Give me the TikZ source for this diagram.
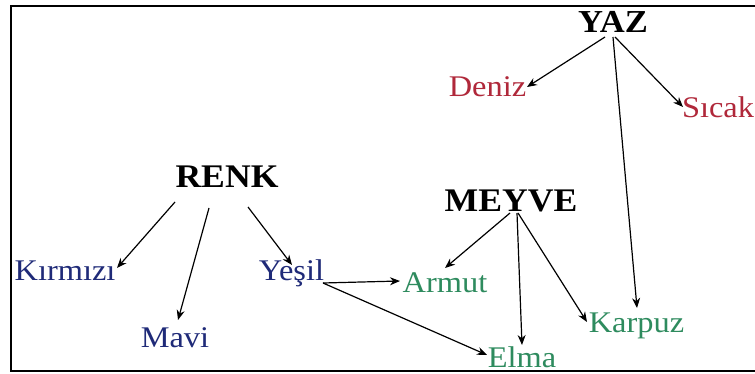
\documentclass[tikz,border=0pt]{standalone}
\usepackage{fontspec}
\setmainfont[FakeStretch=1.08]{Liberation Serif}
\usetikzlibrary{calc,arrows.meta}

\definecolor{summerred}{HTML}{B0283A}
\definecolor{colourblue}{HTML}{1F2A78}
\definecolor{fruitgreen}{HTML}{2E8B5E}

\tikzset{
  lbl/.style={anchor=base, inner sep=0pt},
  topic/.style={lbl, font=\fontsize{33}{33}\selectfont\bfseries},
  word/.style={lbl, font=\fontsize{30}{30}\selectfont},
  redword/.style={word, text=summerred},
  blueword/.style={word, text=colourblue},
  greenword/.style={word, text=fruitgreen},
  link/.style={line width=1.2pt, -{Stealth[length=10pt,width=8pt]}},
  frame/.style={line width=2pt}
}

\begin{document}
\begin{tikzpicture}[x=1pt, y=-1pt]
  \useasboundingbox (0,0) rectangle (755,374);
  \fill[white] (0,0) rectangle (755,374);

  % open frame: top, left and bottom edges
  \draw[frame] (755,6) -- (11,6) -- (11,371) -- (755,371);

  % main topics
  \node[topic, font=\fontsize{32}{32}\selectfont\bfseries] (yaz) at (613,33) {YAZ};
  \node[topic] (renk)  at (227,188) {RENK};
  \node[topic] (meyve) at (511,212) {MEYVE};

  % words
  \node[redword]   (deniz)   at (487.5,97) {Deniz};
  \node[redword]   (sicak)   at (718,118)  {Sıcak};
  \node[blueword]  (kirmizi) at (65,280)   {Kırmızı};
  \node[blueword]  (mavi)    at (175,347)  {Mavi};
  \node[blueword]  (yesil)   at (291.5,280){Yeşil};
  \node[greenword] (armut)   at (445,292)  {Armut};
  \node[greenword] (karpuz)  at (636.5,332){Karpuz};
  \node[greenword] (elma)    at (522,367)  {Elma};

  % YAZ links
  \draw[link] ($(yaz.base)+(-8,4)$) -- ($(deniz.base)+(39.5,-10)$);
  \draw[link] ($(yaz.base)+(2,4)$)  -- ($(sicak.base)+(-35,-11)$);
  \draw[link] ($(yaz.base)+(0,4)$)  -- ($(karpuz.base)+(0.5,-24)$);

  % RENK links
  \draw[link] ($(renk.base)+(-52,14)$) -- ($(kirmizi.base)+(52,-12)$);
  \draw[link] ($(renk.base)+(-18,20)$) -- ($(mavi.base)+(3,-27)$);
  \draw[link] ($(renk.base)+(21,19)$)  -- ($(yesil.base)+(0.5,-15)$);

  % Yeşil links
  \draw[link] ($(yesil.base)+(31.5,3)$) -- ($(armut.base)+(-45,-11)$);
  \draw[link] ($(yesil.base)+(31.5,3)$) -- ($(elma.base)+(-35,-12)$);

  % MEYVE links
  \draw[link] ($(meyve.base)+(-1,1)$) -- ($(armut.base)+(0,-24)$);
  \draw[link] ($(meyve.base)+(6,1)$)  -- ($(elma.base)+(0,-22)$);
  \draw[link] ($(meyve.base)+(7,1)$)  -- ($(karpuz.base)+(-49.5,-10)$);
\end{tikzpicture}
\end{document}
